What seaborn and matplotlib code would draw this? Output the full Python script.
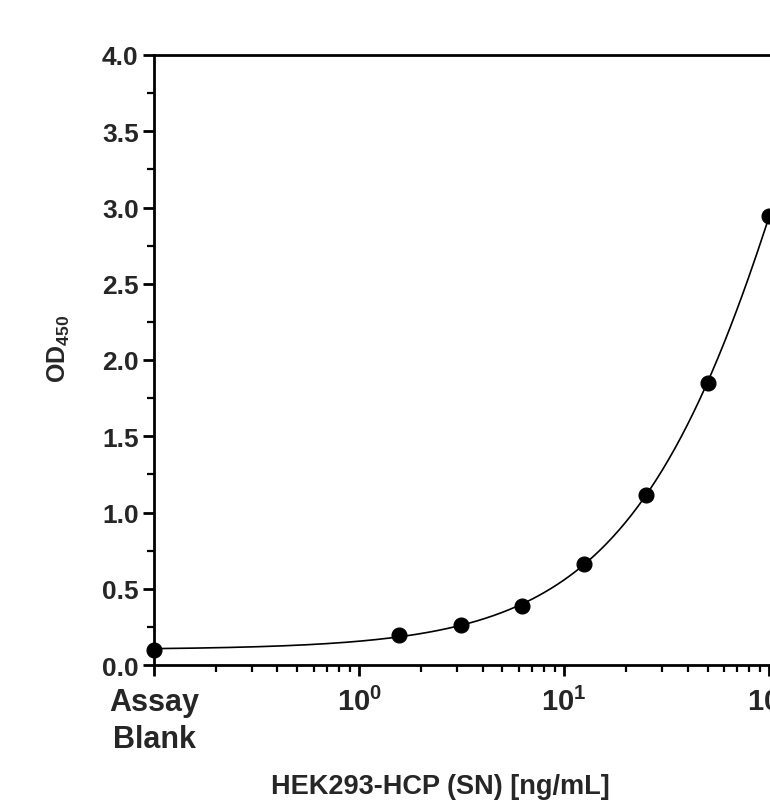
import numpy as np
import pandas as pd
import matplotlib
matplotlib.use("Agg")
import matplotlib.pyplot as plt
import matplotlib.ticker as mticker
import seaborn as sns

# ==============================
# Data
# ==============================
# the assay blank is drawn at the left end of the axis (0.1)
conc = [0.1, 1.5625, 3.125, 6.25, 12.5, 25, 50, 100]
od450 = [0.10, 0.20, 0.26, 0.39, 0.66, 1.115, 1.85, 2.945]

x_ticks = [0.1, 1, 10, 100]
x_tick_labels = ["Assay\nBlank", r"$\mathbf{10^{0}}$", r"$\mathbf{10^{1}}$", r"$\mathbf{10^{2}}$"]
y_ticks = [0.0, 0.5, 1.0, 1.5, 2.0, 2.5, 3.0, 3.5, 4.0]

df = pd.DataFrame({"conc": conc, "od": od450})

# ==============================
# 4PL fit (grid over slope / EC50, linear solve for bottom / top)
# ==============================
xv = df["conc"].to_numpy()
yv = df["od"].to_numpy()
best = None
for b in np.linspace(0.5, 3.0, 126):
    for logc in np.linspace(0.0, 4.0, 201):
        g = 1.0 / (1.0 + (xv / 10 ** logc) ** b)
        A = np.column_stack([g, 1 - g])
        coef = np.linalg.lstsq(A, yv, rcond=None)[0]
        err = np.sum((A @ coef - yv) ** 2)
        if best is None or err < best[0]:
            best = (err, b, logc, coef)
_, b_fit, logc_fit, (bottom, top) = best
xs = np.logspace(-1, 2, 300)
gs = 1.0 / (1.0 + (xs / 10 ** logc_fit) ** b_fit)
fit = pd.DataFrame({"conc": xs, "od": bottom * gs + top * (1 - gs)})

# ==============================
# Plot
# ==============================
sns.set_style("ticks")
plt.rcParams["font.family"] = ["Liberation Sans", "DejaVu Sans"]
plt.rcParams["font.weight"] = "bold"
plt.rcParams["mathtext.fontset"] = "custom"
plt.rcParams["mathtext.bf"] = "Liberation Sans:bold"
plt.rcParams["mathtext.rm"] = "Liberation Sans:bold"
plt.rcParams["mathtext.it"] = "Liberation Sans:bold"

fig = plt.figure(figsize=(7.7, 8.12), dpi=100)
ax = fig.add_axes([154 / 770, 1 - 666 / 812, 677 / 770, 610 / 812])

sns.lineplot(data=fit, x="conc", y="od", color="black", linewidth=1.2, ax=ax)
sns.scatterplot(data=df, x="conc", y="od", color="black", s=115, edgecolor="black",
                zorder=5, clip_on=False, ax=ax)

ax.set_xscale("log")
ax.set_xlim(0.1, 200)
ax.set_ylim(0, 4.0)

ax.xaxis.set_major_locator(mticker.FixedLocator(x_ticks))
ax.xaxis.set_major_formatter(mticker.FixedFormatter(x_tick_labels))
ax.xaxis.set_minor_locator(mticker.LogLocator(base=10, subs=np.arange(2, 10)))
ax.xaxis.set_minor_formatter(mticker.NullFormatter())
ax.set_yticks(y_ticks)
ax.yaxis.set_major_formatter(mticker.FormatStrFormatter("%.1f"))
ax.yaxis.set_minor_locator(mticker.MultipleLocator(0.25))

for side in ["left", "bottom", "top", "right"]:
    ax.spines[side].set_linewidth(2.0)
    ax.spines[side].set_color("black")

ax.tick_params(axis="both", which="major", length=8, width=2, color="black")
ax.tick_params(axis="both", which="minor", length=5, width=1.6, color="black")
ax.tick_params(axis="y", which="major", labelsize=19, pad=3)
ax.tick_params(axis="x", which="major", labelsize=21, pad=8)

for lab in ax.get_xticklabels():
    lab.set_fontweight("bold")
    if "Assay" in lab.get_text():
        lab.set_fontsize(22)
        lab.set_linespacing(1.3)
for lab in ax.get_yticklabels():
    lab.set_fontweight("bold")

ax.set_xlabel("HEK293-HCP (SN) [ng/mL]", fontsize=19.5, fontweight="bold")
ax.xaxis.set_label_coords(286 / 677, -108 / 610)
ax.set_ylabel(r"$\mathbf{OD_{450}}$", fontsize=18)
ax.yaxis.set_label_coords(-82 / 677, 0.52)

fig.savefig("out.png", dpi=100, facecolor="white")
